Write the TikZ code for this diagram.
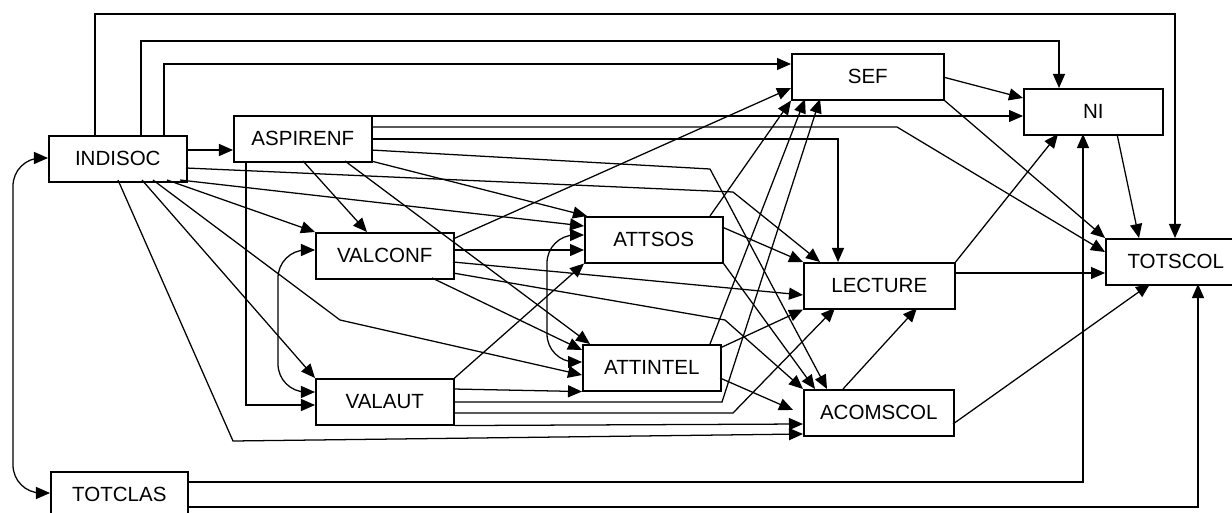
\documentclass[tikz,border=0pt]{standalone}
\usepackage{fontspec}
\setmainfont{Liberation Sans}
\usepackage{tikz}
\usetikzlibrary{calc}
\usetikzlibrary{arrows.meta}

\begin{document}
\begin{tikzpicture}[x=0.025cm,y=-0.025cm,
    var/.style={draw,line width=1.1pt,anchor=north west,minimum height=1.15cm,inner sep=0pt,font=\fontsize{14.6}{17}\selectfont},
    link/.style={line width=0.9pt,-{Triangle[length=3.5mm,width=3mm]}},
    corr/.style={line width=0.9pt,{Triangle[length=3.5mm,width=3mm]}-{Triangle[length=3.5mm,width=3mm]},rounded corners=0.7cm}]
    \useasboundingbox (0,0) rectangle (1232,513);

    % Variables (north west corners in pixels)
    \node[var,minimum width=3.45cm] (indisoc) at (48,135) {INDISOC};
    \node[var,minimum width=3.45cm] (aspirenf) at (233,115) {ASPIRENF};
    \node[var,minimum width=3.45cm] (valconf) at (315,232) {VALCONF};
    \node[var,minimum width=3.45cm] (valaut) at (315,378) {VALAUT};
    \node[var,minimum width=3.45cm] (attsos) at (584,216) {ATTSOS};
    \node[var,minimum width=3.45cm] (attintel) at (582,344) {ATTINTEL};
    \node[var,minimum width=3.8cm] (sef) at (791,53) {SEF};
    \node[var,minimum width=3.475cm] (ni) at (1023,88) {NI};
    \node[var,minimum width=3.5cm] (totscol) at (1105,238) {TOTSCOL};
    \node[var,minimum width=3.775cm] (lecture) at (803,262) {LECTURE};
    \node[var,minimum width=3.75cm] (acomscol) at (803,389) {ACOMSCOL};
    \node[var,minimum width=3.425cm] (totclas) at (50,471) {TOTCLAS};

    % Bend points
    \coordinate (kindlec) at (733,192);
    \coordinate (kindint) at (340,320);
    \coordinate (kindaco) at (233,441);
    \coordinate (kasptot) at (897,127);
    \coordinate (kaspaco) at (710,169);
    \coordinate (kvcfaco) at (725,320);
    \coordinate (kvausef) at (722,402);
    \coordinate (kvaulec) at (733,413);

    % Paths from INDISOC
    \draw[link] ($(indisoc.north west)+(47,0)$) -- ++(0,-121) -| ($(totscol.north west)+(70,0)$);
    \draw[link] ($(indisoc.north west)+(93,0)$) -- ++(0,-94) -| ($(ni.north west)+(36,0)$);
    \draw[link] ($(indisoc.north west)+(116,0)$) |- ($(sef.north west)+(0,11)$);
    \draw[link] ($(indisoc.north west)+(138,15)$) -- ($(aspirenf.north west)+(0,35)$);
    \draw[link] ($(indisoc.north west)+(138,33)$) -- (kindlec) -- ($(lecture.north west)+(17,0)$);
    \draw[link] ($(indisoc.north west)+(132,45)$) -- ($(attsos.north west)+(0,10)$);
    \draw[link] ($(indisoc.north west)+(119,45)$) -- (valconf.north west);
    \draw[link] ($(indisoc.north west)+(105,45)$) -- (kindint) -- ($(attintel.north west)+(0,31)$);
    \draw[link] ($(indisoc.north west)+(94,45)$) -- (valaut.north west);
    \draw[link] ($(indisoc.north west)+(70,45)$) -- (kindaco) -- ($(acomscol.north west)+(0,45)$);

    % Paths from ASPIRENF
    \draw[link] ($(aspirenf.north west)+(138,1)$) -- ($(ni.north west)+(0,28)$);
    \draw[link] ($(aspirenf.north west)+(138,12)$) -- (kasptot) -- ($(totscol.north west)+(0,14)$);
    \draw[link] ($(aspirenf.north west)+(138,24)$) -| ($(lecture.north west)+(35,0)$);
    \draw[link] ($(aspirenf.north west)+(138,35)$) -- (kaspaco) -- ($(acomscol.north west)+(24,0)$);
    \draw[link] ($(aspirenf.north west)+(138,46)$) -- ($(attsos.north west)+(3,0)$);
    \draw[link] ($(aspirenf.north west)+(70,46)$) -- ($(valconf.north west)+(52,0)$);
    \draw[link] ($(aspirenf.north west)+(112,46)$) -- ($(attintel.north west)+(8,0)$);
    \draw[link] ($(aspirenf.north west)+(13,46)$) |- ($(valaut.north west)+(0,27)$);

    % Paths from VALCONF
    \draw[link] ($(valconf.north west)+(138,7)$) -- ($(sef.north west)+(0,35)$);
    \draw[link] ($(valconf.north west)+(138,18)$) -- ($(attsos.north west)+(0,34)$);
    \draw[link] ($(valconf.north west)+(138,30)$) -- ($(lecture.north west)+(0,33)$);
    \draw[link] ($(valconf.north west)+(138,41)$) -- (kvcfaco) -- (acomscol.north west);
    \draw[link] ($(valconf.north west)+(117,46)$) -- ($(attintel.north west)+(0,6)$);

    % Paths from VALAUT
    \draw[link] (valaut.north east) -- (attsos.south west);
    \draw[link] ($(valaut.north west)+(138,11)$) -- (attintel.south west);
    \draw[link] ($(valaut.north west)+(138,24)$) -- (kvausef) -- ($(sef.north west)+(29,46)$);
    \draw[link] ($(valaut.north west)+(138,35)$) -- (kvaulec) -- ($(lecture.north west)+(32,46)$);
    \draw[link] (valaut.south east) -- ($(acomscol.north west)+(0,35)$);

    % Paths from ATTSOS
    \draw[link] ($(attsos.north west)+(126,0)$) -- (sef.south west);
    \draw[link] ($(attsos.north west)+(138,11)$) -- (lecture.north west);
    \draw[link] (attsos.south east) -- ($(acomscol.north west)+(12,0)$);

    % Paths from ATTINTEL
    \draw[link] ($(attintel.north west)+(128,0)$) -- ($(sef.north west)+(14,46)$);
    \draw[link] ($(attintel.north west)+(138,4)$) -- (lecture.south west);
    \draw[link] ($(attintel.north west)+(138,34)$) -- ($(acomscol.north west)+(-10,21)$);

    % Paths from LECTURE, ACOMSCOL, SEF and NI
    \draw[link] (lecture.north east) -- ($(ni.north west)+(35,46)$);
    \draw[link] ($(lecture.north west)+(151,11)$) -- ($(totscol.north west)+(0,35)$);
    \draw[link] ($(acomscol.north west)+(40,0)$) -- ($(lecture.north west)+(114,46)$);
    \draw[link] ($(acomscol.north west)+(150,35)$) -- ($(totscol.north west)+(45,46)$);
    \draw[link] ($(sef.north west)+(152,24)$) -- ($(ni.north west)+(0,10)$);
    \draw[link] (sef.south east) -- (totscol.north west);
    \draw[link] ($(ni.north west)+(94,46)$) -- ($(totscol.north west)+(34,0)$);

    % Paths from TOTCLAS
    \draw[link] ($(totclas.north west)+(137,11)$) -| ($(ni.north west)+(60,46)$);
    \draw[link] ($(totclas.north west)+(137,36)$) -| ($(totscol.north west)+(93,46)$);

    % Correlations
    \draw[corr] ($(indisoc.north west)+(0,23)$) -- ++(-35,0) |- ($(totclas.north west)+(0,22)$);
    \draw[corr] ($(valconf.north west)+(0,18)$) -- ++(-37,0) |- ($(valaut.north west)+(0,14)$);
    \draw[corr] ($(attsos.north west)+(0,19)$) -- ++(-37,0) |- ($(attintel.north west)+(0,18)$);
\end{tikzpicture}
\end{document}
